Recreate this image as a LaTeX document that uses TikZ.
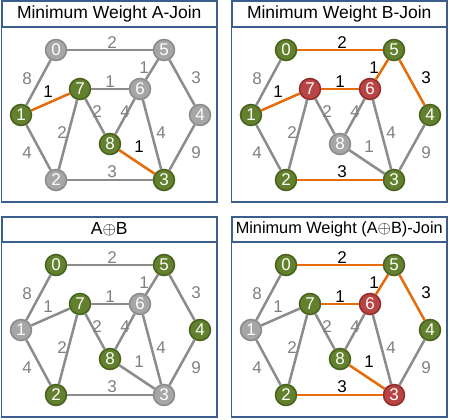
\documentclass[tikz,border=0pt]{standalone}
\usepackage{fontspec}
\setmainfont{Liberation Sans}

\definecolor{frameblue}{RGB}{59,94,140}
\definecolor{vgreenfill}{RGB}{98,128,45}
\definecolor{vgreenline}{RGB}{72,98,30}
\definecolor{vgrayfill}{RGB}{166,166,166}
\definecolor{vgrayline}{RGB}{138,138,138}
\definecolor{vredfill}{RGB}{184,68,68}
\definecolor{vredline}{RGB}{145,45,45}
\definecolor{edgegray}{RGB}{140,140,140}
\definecolor{edgeorange}{RGB}{228,108,10}
\definecolor{labgray}{RGB}{128,128,128}

\tikzset{
  vbase/.style={circle, draw, line width=1.5pt, minimum size=21pt, inner sep=0pt, text=white, font=\fontsize{17}{17}\selectfont},
  vgreen/.style={vbase, draw=vgreenline, fill=vgreenfill},
  vgray/.style={vbase, draw=vgrayline, fill=vgrayfill},
  vred/.style={vbase, draw=vredline, fill=vredfill},
  egray/.style={draw=edgegray, line width=2.5pt},
  eorange/.style={draw=edgeorange, line width=2.5pt},
  wgray/.style={inner sep=0pt, text=labgray, font=\fontsize{17}{17}\selectfont},
  worange/.style={inner sep=0pt, text=black, font=\fontsize{17}{17}\selectfont},
  panelframe/.style={draw=frameblue, line width=1.2pt},
  titlebox/.style={draw=frameblue, line width=2pt, fill=white, minimum width=215.5pt, minimum height=25.5pt, inner sep=0pt, font=\fontsize{17.5}{17.5}\selectfont}
}

\begin{document}
\begin{tikzpicture}[x=1pt, y=-1pt]
  \useasboundingbox (0,0) rectangle (450,420);

  % 左上: A-Join
  \begin{scope}[shift={(0,0)}]
    \draw[panelframe] (1.5,1.5) rectangle (217,202);
    \node[titlebox] (ta) at (109.25,14.25) {Minimum Weight A-Join};
    \foreach \n/\x/\y/\c in {0/56/50/gray, 5/164/50/gray, 7/80/89/green, 6/140/89/gray, 1/21/115/green,
                             4/200/115/gray, 8/110/144/green, 2/56/180/gray, 3/164/180/green}
      \node[v\c] (a\n) at (\x,\y) {\n};
    \foreach \u/\v/\w/\lx/\ly/\k in {0/5/2/112/43/gray, 0/1/8/27/79/gray, 5/6/1/144/68/gray, 5/4/3/196/78/gray,
                                     1/7/1/48/92/orange, 7/6/1/110/82/gray, 7/8/2/97/112/gray, 6/8/4/125/112/gray,
                                     7/2/2/62/133/gray, 6/3/4/161/133/gray, 1/2/4/27/153/gray, 8/3/1/139/147/orange,
                                     4/3/9/196/153/gray, 2/3/3/112/172/gray} {
      \draw[e\k] (a\u) -- (a\v);
      \node[w\k] at (\lx,\ly) {\w};
    }
  \end{scope}

  % 右上: B-Join
  \begin{scope}[shift={(230,0)}]
    \draw[panelframe] (1.5,1.5) rectangle (217,202);
    \node[titlebox] (tb) at (109.25,14.25) {Minimum Weight B-Join};
    \foreach \n/\x/\y/\c in {0/56/50/green, 5/164/50/green, 7/80/89/red, 6/140/89/red, 1/21/115/green,
                             4/200/115/green, 8/110/144/gray, 2/56/180/green, 3/164/180/green}
      \node[v\c] (b\n) at (\x,\y) {\n};
    \foreach \u/\v/\w/\lx/\ly/\k in {0/5/2/112/43/orange, 0/1/8/27/79/gray, 5/6/1/144/68/orange, 5/4/3/196/78/orange,
                                     1/7/1/48/92/orange, 7/6/1/110/82/orange, 7/8/2/97/112/gray, 6/8/4/125/112/gray,
                                     7/2/2/62/133/gray, 6/3/4/161/133/gray, 1/2/4/27/153/gray, 8/3/1/139/147/gray,
                                     4/3/9/196/153/gray, 2/3/3/112/172/orange} {
      \draw[e\k] (b\u) -- (b\v);
      \node[w\k] at (\lx,\ly) {\w};
    }
  \end{scope}

  % 左下: A+B
  \begin{scope}[shift={(0,215)}]
    \draw[panelframe] (1.5,1.5) rectangle (217,202);
    \node[titlebox] (tc) at (109.25,14.25) {A$\oplus$B};
    \foreach \n/\x/\y/\c in {0/56/50/green, 5/164/50/green, 7/80/89/green, 6/140/89/gray, 1/21/115/gray,
                             4/200/115/green, 8/110/144/green, 2/56/180/green, 3/164/180/gray}
      \node[v\c] (c\n) at (\x,\y) {\n};
    \foreach \u/\v/\w/\lx/\ly/\k in {0/5/2/112/43/gray, 0/1/8/27/79/gray, 5/6/1/144/68/gray, 5/4/3/196/78/gray,
                                     1/7/1/48/92/gray, 7/6/1/110/82/gray, 7/8/2/97/112/gray, 6/8/4/125/112/gray,
                                     7/2/2/62/133/gray, 6/3/4/161/133/gray, 1/2/4/27/153/gray, 8/3/1/139/147/gray,
                                     4/3/9/196/153/gray, 2/3/3/112/172/gray} {
      \draw[e\k] (c\u) -- (c\v);
      \node[w\k] at (\lx,\ly) {\w};
    }
  \end{scope}

  % 右下: (A+B)-Join
  \begin{scope}[shift={(230,215)}]
    \draw[panelframe] (1.5,1.5) rectangle (217,202);
    \node[titlebox, font=\fontsize{16.3}{16.3}\selectfont] (td) at (109.25,14.25) {Minimum Weight (A$\oplus$B)-Join};
    \foreach \n/\x/\y/\c in {0/56/50/green, 5/164/50/green, 7/80/89/green, 6/140/89/red, 1/21/115/gray,
                             4/200/115/green, 8/110/144/green, 2/56/180/green, 3/164/180/red}
      \node[v\c] (d\n) at (\x,\y) {\n};
    \foreach \u/\v/\w/\lx/\ly/\k in {0/5/2/112/43/orange, 0/1/8/27/79/gray, 5/6/1/144/68/orange, 5/4/3/196/78/orange,
                                     1/7/1/48/92/gray, 7/6/1/110/82/orange, 7/8/2/97/112/gray, 6/8/4/125/112/gray,
                                     7/2/2/62/133/gray, 6/3/4/161/133/gray, 1/2/4/27/153/gray, 8/3/1/139/147/orange,
                                     4/3/9/196/153/gray, 2/3/3/112/172/orange} {
      \draw[e\k] (d\u) -- (d\v);
      \node[w\k] at (\lx,\ly) {\w};
    }
  \end{scope}
\end{tikzpicture}
\end{document}
